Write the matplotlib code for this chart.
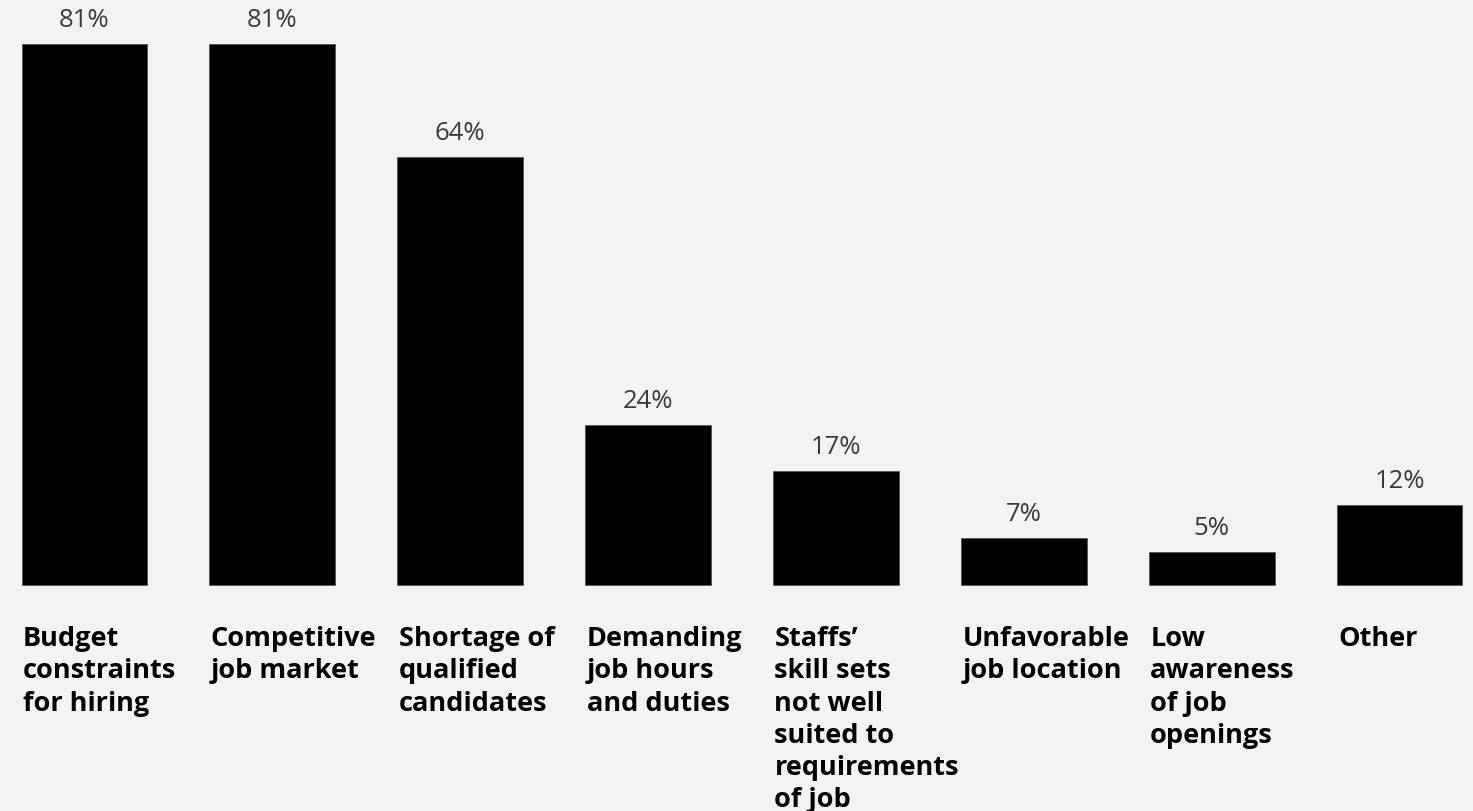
import matplotlib
matplotlib.use("Agg")
import matplotlib.pyplot as plt
import numpy as np

# ── Data ───────────────────────────────────────────────────────────────────
CATEGORIES = [
    "Budget\nconstraints\nfor hiring",
    "Competitive\njob market",
    "Shortage of\nqualified\ncandidates",
    "Demanding\njob hours\nand duties",
    "Staffs\u2019\nskill sets\nnot well\nsuited to\nrequirements\nof job",
    "Unfavorable\njob location",
    "Low\nawareness\nof job\nopenings",
    "Other",
]
VALUES = [81, 81, 64, 24, 17, 7, 5, 12]

BG = "#f3f3f3"
BAR_W = 0.67

fig = plt.figure(figsize=(14.73, 8.12), dpi=100, facecolor=BG)
ax = fig.add_axes([0, 0, 1, 1])
ax.set_facecolor(BG)

x = np.arange(len(VALUES))
bars = ax.bar(x, VALUES, width=BAR_W, color="black", edgecolor="#555555", linewidth=0.6)

ax.set_xlim(-0.45, 7.391)
ax.set_ylim(-33.83, 87.7)
ax.axis("off")

# percentage labels above bars
for xi, v in zip(x, VALUES):
    ax.annotate(f"{v}%", (xi, v), xytext=(0, 13), textcoords="offset points",
                ha="center", va="baseline", fontsize=18.5, color="#3a3a3a",
                family="Open Sans")

# category labels, left-aligned under each bar
for xi, lab in zip(x, CATEGORIES):
    ax.annotate(lab, (xi - BAR_W / 2, 0), xytext=(1, -29), textcoords="offset points",
                ha="left", va="top", fontsize=19.5, fontweight="bold",
                family="Open Sans", color="black", linespacing=1.31)

fig.savefig("out.png", dpi=100, facecolor=BG)
